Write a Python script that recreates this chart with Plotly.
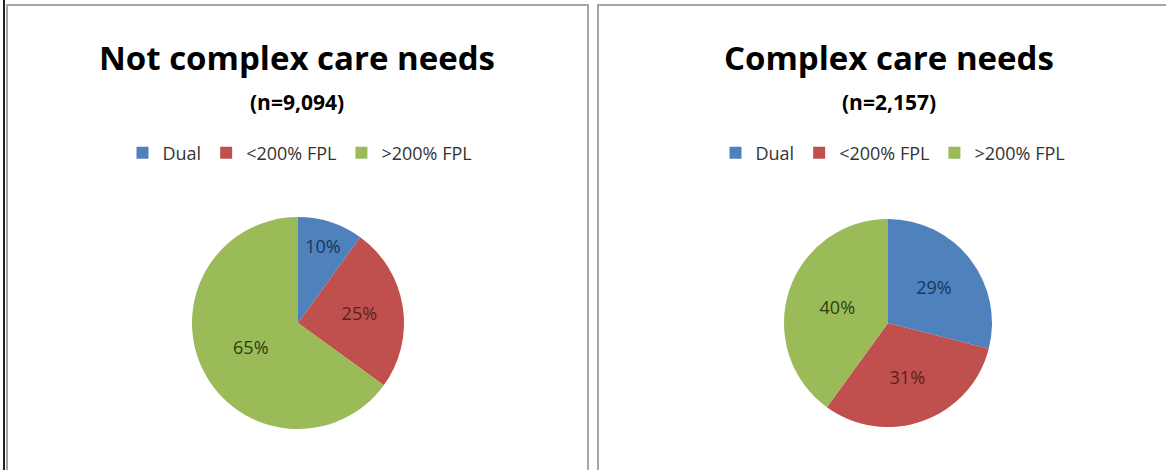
import plotly.graph_objects as go

categories = ["Dual", "<200% FPL", ">200% FPL"]
not_complex_values = [10, 25, 65]
complex_values = [29, 31, 40]
titles = ["Not complex care needs", "Complex care needs"]
subtitles = ["(n=9,094)", "(n=2,157)"]

slice_colors = ["#4F81BD", "#C0504D", "#9BBB59"]
text_colors = ["#17375E", "#5C1F1D", "#2E3D12"]

W, H = 1166, 470
FONT = "Open Sans"

def fx(px):
    return px / W

def fy(py):
    return 1 - py / H

fig = go.Figure()

def px_dom(cx, cy, r):
    return dict(x=[fx(cx - r), fx(cx + r)], y=[fy(cy + r), fy(cy - r)])

# second legend needs distinct label keys (pie legend items are shared by label)
labels_right = [c + "\u200b" for c in categories]

fig.add_trace(go.Pie(
    labels=categories, values=not_complex_values, sort=False, direction="clockwise",
    rotation=0, marker=dict(colors=slice_colors, line=dict(width=0)),
    texttemplate="%{value}%", textposition="inside",
    insidetextfont=dict(family=FONT, size=18, color=text_colors),
    domain=px_dom(298, 323, 106), legend="legend", hoverinfo="label+value",
))
fig.add_trace(go.Pie(
    labels=labels_right, values=complex_values, sort=False, direction="clockwise",
    rotation=0, marker=dict(colors=slice_colors, line=dict(width=0)),
    texttemplate="%{value}%", textposition="inside",
    insidetextfont=dict(family=FONT, size=18, color=text_colors),
    domain=px_dom(888, 323, 104), legend="legend2", hoverinfo="label+value",
))

legend_common = dict(orientation="h", xanchor="center", yanchor="middle",
                     font=dict(family=FONT, size=18, color="#333333"),
                     bgcolor="rgba(0,0,0,0)", itemwidth=30, traceorder="normal")
fig.update_layout(
    legend=dict(x=fx(300), y=fy(153), **legend_common),
    legend2=dict(x=fx(893), y=fy(153), **legend_common),
)

shapes = [
    dict(type="rect", xref="paper", yref="paper", x0=fx(7), x1=fx(588), y0=-0.05, y1=fy(5),
         line=dict(color="#A6A6A6", width=2)),
    dict(type="rect", xref="paper", yref="paper", x0=fx(598), x1=1.05, y0=-0.05, y1=fy(5),
         line=dict(color="#A6A6A6", width=2)),
    dict(type="line", xref="paper", yref="paper", x0=fx(4), x1=fx(4), y0=-0.05, y1=1.05,
         line=dict(color="#222222", width=2)),
]

annotations = []
for cx, t, s in [(297, titles[0], subtitles[0]), (889, titles[1], subtitles[1])]:
    annotations.append(dict(text="<b>" + t + "</b>", x=fx(cx), y=fy(58), xref="paper", yref="paper",
                            showarrow=False, xanchor="center", yanchor="middle",
                            font=dict(family=FONT, size=33, color="#000000")))
    annotations.append(dict(text="<b>" + s + "</b>", x=fx(cx), y=fy(102), xref="paper", yref="paper",
                            showarrow=False, xanchor="center", yanchor="middle",
                            font=dict(family=FONT, size=21, color="#000000")))

fig.update_layout(
    width=W, height=H, margin=dict(l=0, r=0, t=0, b=0),
    paper_bgcolor="white", plot_bgcolor="white",
    shapes=shapes, annotations=annotations, showlegend=True,
)

fig.write_html("out.html", config={"displayModeBar": False},
               post_script="document.body.style.margin='0';document.body.style.overflow='hidden';")
